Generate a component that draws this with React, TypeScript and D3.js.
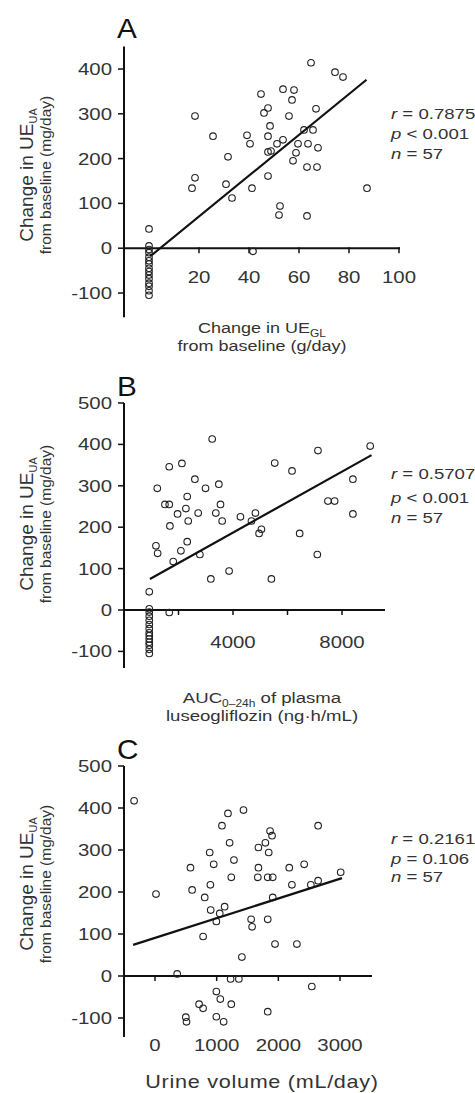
import React from 'react';
import * as d3 from 'd3';

// ---------- DATA ----------
const aPoints: [number, number][] = [
  [64.8, 414], [74.4, 393], [77.6, 382], [44.8, 344], [53.6, 355], [58, 353], [57.2, 331],
  [47.6, 313], [46, 302], [56, 295], [66.8, 311], [18.4, 295], [25.6, 250], [39.2, 252],
  [40.4, 233], [48.4, 273], [47.6, 250], [31.6, 204], [53.6, 242], [51.2, 233], [62, 264],
  [65.6, 264], [59.6, 233], [63.6, 233], [67.6, 224], [47.6, 215], [48.8, 217], [58.8, 213],
  [57.6, 195], [63.2, 181], [67.2, 181], [47.6, 161], [18.4, 157], [17.2, 134], [30.8, 143],
  [33.2, 112], [41.2, 134], [52.4, 94], [52, 74], [63.2, 72], [0, 43], [87.2, 134], [41.6, -7],
  [0, 5], [0, -3], [0, -10], [0, -20], [0, -28], [0, -35], [0, -45], [0, -52], [0, -60],
  [0, -68], [0, -78], [0, -85], [0, -95], [0, -105],
];
const bPoints: [number, number][] = [
  [3236, 413], [1660, 346], [2125, 354], [5531, 355], [6166, 336], [7118, 385], [9035, 396],
  [2601, 316], [1221, 294], [2991, 294], [3480, 304], [8400, 316], [2320, 274], [1502, 255],
  [1660, 255], [2271, 245], [3541, 255], [7484, 263], [7729, 263], [1966, 232], [2722, 234],
  [3370, 234], [4273, 225], [4823, 234], [8400, 232], [2357, 215], [3602, 215], [4677, 215],
  [5043, 195], [4957, 185], [1685, 203], [1172, 155], [1234, 137], [2320, 165], [2088, 143],
  [2784, 134], [1807, 117], [3857, 94], [3187, 75], [5409, 75], [6447, 185], [7094, 134],
  [927, 44], [1660, -6],
  [927, 3], [927, -5], [927, -15], [927, -25], [927, -35], [927, -45], [927, -55], [927, -62],
  [927, -70], [927, -78], [927, -85], [927, -95], [927, -105],
];
const cPoints: [number, number][] = [
  [-339, 417], [1183, 387], [1435, 395], [1086, 358], [2645, 358], [1866, 345], [1898, 334],
  [1790, 317], [1844, 294], [1210, 317], [1677, 306], [887, 294], [1280, 276], [575, 258],
  [952, 266], [1677, 258], [2177, 258], [2419, 266], [1237, 235], [1667, 235], [1828, 235],
  [1909, 235], [3011, 247], [898, 217], [2220, 217], [2527, 217], [2645, 227], [16, 195],
  [602, 205], [806, 187], [1909, 187], [903, 157], [1129, 165], [1050, 149], [995, 130],
  [1559, 135], [1575, 117], [1828, 135], [780, 94], [1946, 76], [2301, 76], [1409, 45],
  [360, 5], [1226, -7], [1360, -7], [2543, -25], [995, -37], [1059, -55], [1237, -67],
  [715, -67], [780, -77], [1828, -85], [500, -98], [511, -109], [995, -97], [1113, -109],
];

// regression lines: [x0, y0, x1, y1]
const aLine = [0.5, -18, 87, 376];
const bLine = [952, 75, 9084, 374];
const cLine = [-355, 74, 3032, 233];

const aYTicks = [-100, 0, 100, 200, 300, 400];
const bYTicks = [-100, 0, 100, 200, 300, 400, 500];
const cYTicks = [-100, 0, 100, 200, 300, 400, 500];
const aXTicks = [20, 40, 60, 80, 100];
const aXLabels = ['20', '40', '60', '80', '100'];
const bXTicks = [2000, 4000, 6000, 8000];
const bXLabels = ['', '4000', '', '8000'];
const cXTicks = [0, 1000, 2000, 3000];
const cXLabels = ['0', '1000', '2000', '3000'];

const aStats = ['0.7875', '< 0.001', '57'];
const bStats = ['0.5707', '< 0.001', '57'];
const cStats = ['0.2161', '= 0.106', '57'];

const FONT = '"Liberation Sans", Arial, sans-serif';
const SX = 1.2; // horizontal stretch of text in the source picture

type STProps = { x: number; y: number; size: number; anchor?: string; sx?: number; fill?: string; ls?: number; children: React.ReactNode };
function ST({ x, y, size, anchor = 'start', sx = SX, fill = '#333', ls = 0, children }: STProps) {
  return (
    <text transform={`translate(${x},${y}) scale(${sx},1)`} fontSize={size} textAnchor={anchor} fill={fill} letterSpacing={ls}>
      {children}
    </text>
  );
}

type PanelProps = {
  letter: string;
  points: [number, number][];
  line: number[];
  xDomain: [number, number];
  xRange: [number, number];
  yDomain: [number, number];
  yRange: [number, number];
  yAxisExtent: [number, number];
  xAxisEnd: number;
  yTicks: number[];
  xTicks: number[];
  xLabels: string[];
  xLabelDy: number;
  stats: string[];
  statsY: number[];
  letterY: number;
  yTitleCenter: number;
  xTitle: React.ReactNode[];
  xTitleY: number[];
  xTitleSize: number;
  xTitleLs?: number;
};

function Panel(p: PanelProps) {
  const x = d3.scaleLinear().domain(p.xDomain).range(p.xRange);
  const y = d3.scaleLinear().domain(p.yDomain).range(p.yRange);
  const axisX = 124;
  const y0 = y(0);
  const lineGen = d3.line<[number, number]>().x(d => x(d[0])).y(d => y(d[1]));
  const reg: [number, number][] = [[p.line[0], p.line[1]], [p.line[2], p.line[3]]];
  return (
    <g fontFamily={FONT}>
      <ST x={117} y={p.letterY} size={27} sx={1.1} fill="#111">{p.letter}</ST>
      {/* y axis */}
      <line x1={axisX} x2={axisX} y1={y(p.yAxisExtent[0])} y2={y(p.yAxisExtent[1])} stroke="#111" strokeWidth={2} />
      {p.yTicks.map(t => (
        <g key={'yt' + t}>
          <line x1={axisX - 6} x2={axisX} y1={y(t)} y2={y(t)} stroke="#111" strokeWidth={1.5} />
          <ST x={axisX - 12} y={y(t) + 6} size={17} anchor="end">{t}</ST>
        </g>
      ))}
      {/* x axis */}
      <line x1={axisX} x2={p.xAxisEnd} y1={y0} y2={y0} stroke="#111" strokeWidth={2} />
      {p.xTicks.map((t, i) => (
        <g key={'xt' + t}>
          <line x1={x(t)} x2={x(t)} y1={y0 - 1} y2={y0 + 5} stroke="#111" strokeWidth={1.5} />
          <ST x={x(t)} y={y0 + p.xLabelDy} size={17} anchor="middle">{p.xLabels[i]}</ST>
        </g>
      ))}
      {/* points */}
      {p.points.map((d, i) => (
        <circle key={i} cx={x(d[0])} cy={y(d[1])} r={3.3} fill="none" stroke="#222" strokeWidth={1.1} />
      ))}
      <path d={lineGen(reg) || ''} stroke="#111" strokeWidth={2.2} fill="none" />
      {/* stats */}
      <ST x={391} y={p.statsY[0]} size={15.5}><tspan fontStyle="italic">r</tspan> = {p.stats[0]}</ST>
      <ST x={391} y={p.statsY[1]} size={15.5}><tspan fontStyle="italic">p</tspan> {p.stats[1]}</ST>
      <ST x={391} y={p.statsY[2]} size={15.5}><tspan fontStyle="italic">n</tspan> = {p.stats[2]}</ST>
      {/* y title */}
      <g transform={`translate(33, ${p.yTitleCenter}) rotate(-90)`}>
        <text x={0} y={0} fontSize={19} textAnchor="middle" fill="#333">
          Change in UE<tspan fontSize={11} dy={4}>UA</tspan>
        </text>
        <text x={0} y={18} fontSize={15.5} textAnchor="middle" fill="#333">from baseline (mg/day)</text>
      </g>
      {/* x title */}
      {p.xTitle.map((t, i) => (
        <ST key={'xtt' + i} x={262} y={p.xTitleY[i]} size={p.xTitleSize} anchor="middle" ls={p.xTitleLs || 0}>{t}</ST>
      ))}
    </g>
  );
}

export default function App() {
  return (
    <svg width={475} height={1093} style={{ position: 'absolute', left: 0, top: 0, background: '#fff' }}>
      <rect x={0} y={0} width={475} height={1093} fill="#fff" />
      <Panel
        letter="A" points={aPoints} line={aLine}
        xDomain={[0, 100]} xRange={[149, 399]}
        yDomain={[-100, 400]} yRange={[293, 69]}
        yAxisExtent={[-154, 450]} xAxisEnd={400}
        yTicks={aYTicks} xTicks={aXTicks} xLabels={aXLabels} xLabelDy={35}
        stats={aStats} statsY={[119, 139, 159]} letterY={38}
        yTitleCenter={175}
        xTitle={[<>Change in UE<tspan fontSize={10} dy={4}>GL</tspan></>, 'from baseline (g/day)']}
        xTitleY={[333, 351]} xTitleSize={15}
      />
      <Panel
        letter="B" points={bPoints} line={bLine}
        xDomain={[0, 8000]} xRange={[124, 342]}
        yDomain={[0, 500]} yRange={[610, 403]}
        yAxisExtent={[-140, 500]} xAxisEnd={385}
        yTicks={bYTicks} xTicks={bXTicks} xLabels={bXLabels} xLabelDy={38}
        stats={bStats} statsY={[479, 503, 523]} letterY={396}
        yTitleCenter={524}
        xTitle={[<>AUC<tspan fontSize={10} dy={4}>0–24h</tspan><tspan dy={-4}> of plasma</tspan></>, 'luseogliflozin (ng·h/mL)']}
        xTitleY={[703, 721]} xTitleSize={15.5}
      />
      <Panel
        letter="C" points={cPoints} line={cLine}
        xDomain={[0, 3000]} xRange={[155, 340]}
        yDomain={[0, 500]} yRange={[976, 766]}
        yAxisExtent={[-145, 500]} xAxisEnd={372}
        yTicks={cYTicks} xTicks={cXTicks} xLabels={cXLabels} xLabelDy={75}
        stats={cStats} statsY={[844, 864, 882]} letterY={759}
        yTitleCenter={884}
        xTitle={['Urine volume (mL/day)']}
        xTitleY={[1088]} xTitleSize={18} xTitleLs={0.6}
      />
    </svg>
  );
}
